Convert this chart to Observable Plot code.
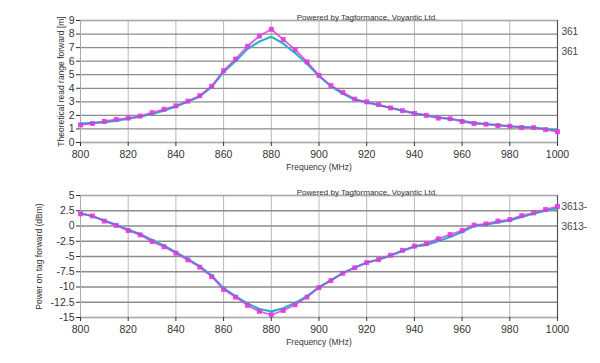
<!DOCTYPE html>
<html>
<head>
<meta charset="utf-8">
<script src="https://cdn.jsdelivr.net/npm/d3@7"></script>
<script src="https://cdn.jsdelivr.net/npm/@observablehq/plot@0.6"></script>
<style>
  html, body { margin: 0; padding: 0; background: #fff; }
  #chart svg { display: block; }
</style>
</head>
<body>
<div id="chart"></div>
<script>
const freq = [800,805,810,815,820,825,830,835,840,845,850,855,860,865,870,875,880,885,890,895,900,905,910,915,920,925,930,935,940,945,950,955,960,965,970,975,980,985,990,995,1000];

const rangeMagenta = [1.3,1.4,1.55,1.7,1.8,1.95,2.2,2.45,2.7,3.05,3.45,4.15,5.3,6.15,7.1,7.85,8.35,7.6,6.85,5.95,4.95,4.2,3.7,3.2,3.0,2.8,2.55,2.35,2.15,2.0,1.8,1.75,1.55,1.4,1.35,1.25,1.2,1.1,1.1,0.95,0.8];
const rangeCyan = [1.4,1.45,1.5,1.6,1.75,1.9,2.1,2.35,2.65,3.0,3.4,4.1,5.2,6.0,6.9,7.45,7.8,7.3,6.6,5.8,4.9,4.15,3.6,3.15,2.95,2.75,2.55,2.35,2.15,2.0,1.85,1.75,1.6,1.45,1.35,1.3,1.2,1.15,1.1,1.0,0.9];

const powerMagenta = [2.0,1.65,0.8,0.1,-0.75,-1.45,-2.55,-3.4,-4.45,-5.55,-6.75,-8.3,-10.4,-11.65,-13.0,-14.0,-14.55,-13.85,-12.9,-11.65,-10.1,-8.95,-7.75,-6.85,-6.0,-5.5,-4.8,-4.0,-3.3,-2.9,-2.1,-1.4,-0.75,0.15,0.35,0.8,1.05,1.7,2.15,2.7,3.2];
const powerCyan = [2.1,1.6,0.9,0.2,-0.6,-1.3,-2.3,-3.2,-4.3,-5.4,-6.6,-8.1,-10.2,-11.5,-12.7,-13.6,-14.0,-13.5,-12.6,-11.5,-10.0,-8.9,-7.7,-6.8,-6.0,-5.5,-4.85,-4.1,-3.4,-3.1,-2.5,-1.8,-1.0,0.0,0.2,0.6,0.9,1.5,2.0,2.5,2.9];

const xTicks = [800,820,840,860,880,900,920,940,960,980,1000];
const yTicksTop = [0,1,2,3,4,5,6,7,8,9];
const yTicksBottom = [5,2.5,0,-2.5,-5,-7.5,-10,-12.5,-15];
const legendTop = ["361", "361"];
const legendBottom = ["3613-", "3613-"];
const credit = "Powered by Tagformance, Voyantic Ltd.";
const xLabel = "Frequency (MHz)";
const yLabelTop = "Theoretical read range forward [m]";
const yLabelBottom = "Power on tag forward (dBm)";

const MAGENTA = "#e03ce0";
const CYAN = "#2cc4c8";
const FONT = "'Liberation Sans', Arial, sans-serif";

function makeChart({valsM, valsC, yDomain, yTicks, yLabel, legend, height, marginTop, marginBottom, yLabelOffset}) {
  const rowsM = freq.map((f, i) => ({f, v: valsM[i]}));
  const rowsC = freq.map((f, i) => ({f, v: valsC[i]}));
  return Plot.plot({
    width: 600,
    height,
    marginLeft: 80,
    marginRight: 43,
    marginTop,
    marginBottom,
    style: {fontFamily: FONT, fontSize: "10px", color: "#333", background: "#fff", overflow: "visible"},
    x: {domain: [800, 1000], label: null},
    y: {domain: yDomain, label: null},
    marks: [
      Plot.gridX(xTicks, {stroke: "#b8b8b8", strokeOpacity: 1, strokeWidth: 1}),
      Plot.gridY(yTicks, {stroke: "#8c8c8c", strokeOpacity: 1, strokeWidth: 1.3}),
      Plot.frame({stroke: "#aaa"}),
      Plot.ruleX([1000], {stroke: "#555", strokeWidth: 1.2}),
      Plot.axisX({ticks: xTicks, tickSize: 4, tickPadding: 4, tickFormat: d => String(d), label: null, fontSize: 10.5}),
      Plot.axisY({ticks: yTicks, tickSize: 4, tickPadding: 2, tickFormat: d => String(d), label: null, fontSize: 10.5}),
      Plot.text([xLabel], {text: d => d, frameAnchor: "bottom", dy: 21, lineAnchor: "top", fontSize: 8.5, fill: "#333"}),
      Plot.text([yLabel], {text: d => d, frameAnchor: "left", textAnchor: "middle", dx: -yLabelOffset, rotate: -90, fontSize: 8.5, fill: "#333"}),
      Plot.text([credit], {text: d => d, frameAnchor: "top-right", dx: -120, dy: -1, textAnchor: "end", lineAnchor: "bottom", fontSize: 8, fill: "#333"}),
      Plot.text([legend.join("\n")], {text: d => d, frameAnchor: "top-right", dx: 4, dy: 1, textAnchor: "start", lineAnchor: "top", lineHeight: 1.95, fontSize: 10, fill: "#444"}),
      Plot.line(rowsC, {x: "f", y: "v", stroke: CYAN, strokeWidth: 2.2}),
      Plot.line(rowsM, {x: "f", y: "v", stroke: MAGENTA, strokeWidth: 1.8, strokeOpacity: 0.85}),
      Plot.dot(rowsM, {x: "f", y: "v", symbol: "square", r: 2.8, fill: MAGENTA, fillOpacity: 0.9}),
      Plot.line(rowsC, {x: "f", y: "v", stroke: "#3a7fd0", strokeWidth: 0.9, strokeOpacity: 0.6})
    ]
  });
}

const chartTop = makeChart({
  valsM: rangeMagenta, valsC: rangeCyan, yDomain: [0, 9], yTicks: yTicksTop,
  yLabel: yLabelTop, legend: legendTop, height: 181, marginTop: 20, marginBottom: 39, yLabelOffset: 19
});
const chartBottom = makeChart({
  valsM: powerMagenta, valsC: powerCyan, yDomain: [-15, 5], yTicks: yTicksBottom,
  yLabel: yLabelBottom, legend: legendBottom, height: 182, marginTop: 14, marginBottom: 46, yLabelOffset: 41
});
document.getElementById("chart").append(chartTop, chartBottom);
</script>
</body>
</html>
